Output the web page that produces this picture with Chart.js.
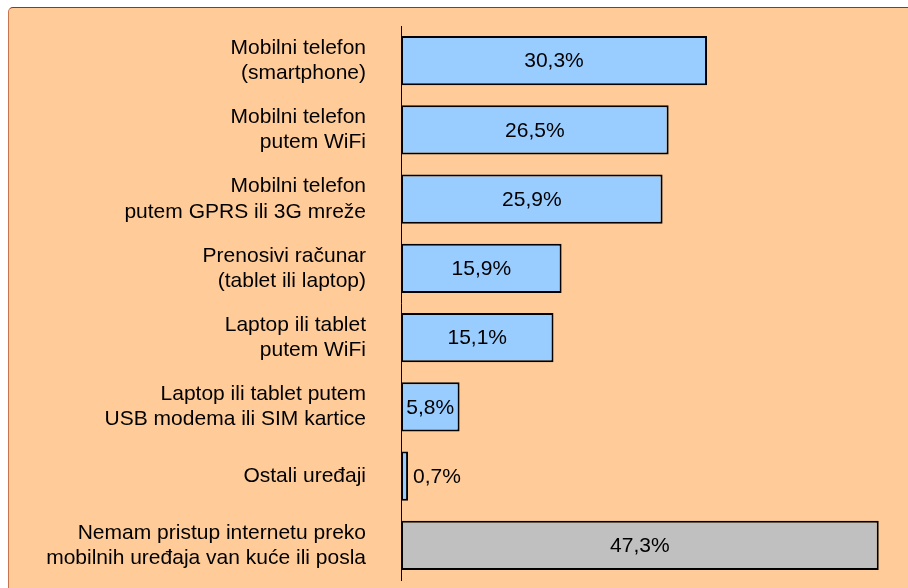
<!DOCTYPE html>
<html>
<head>
<meta charset="utf-8">
<script src="https://cdn.jsdelivr.net/npm/chart.js@4/dist/chart.umd.min.js"></script>
<style>
  html, body { margin: 0; padding: 0; background: #fff; overflow: hidden; }
  #panel {
    position: absolute; left: 8px; top: 7px; width: 1000px; height: 700px;
    background: #FFCC99;
    border-top: 1px solid #8a3d12; border-left: 1px solid #c8744c;
    border-top-left-radius: 5px;
  }
  #chart { position: absolute; left: 0; top: 0; }
</style>
</head>
<body>
<div id="panel"></div>
<canvas id="chart" width="908" height="588"></canvas>
<script>
// kategorije (oznake na y osi)
const categories = [
  ['Mobilni telefon', '(smartphone)'],
  ['Mobilni telefon', 'putem WiFi'],
  ['Mobilni telefon', 'putem GPRS ili 3G mreže'],
  ['Prenosivi računar', '(tablet ili laptop)'],
  ['Laptop ili tablet', 'putem WiFi'],
  ['Laptop ili tablet putem', 'USB modema ili SIM kartice'],
  'Ostali uređaji',
  ['Nemam pristup internetu preko', 'mobilnih uređaja van kuće ili posla']
];

// procenti
const values = [30.3, 26.5, 25.9, 15.9, 15.1, 5.8, 0.7, 47.3];

const barColors = ['#99CCFF', '#99CCFF', '#99CCFF', '#99CCFF', '#99CCFF', '#99CCFF', '#99CCFF', '#C0C0C0'];

const FONT = 'Liberation Sans, Arial, sans-serif';

function fmt(v) {
  return v.toFixed(1).replace('.', ',') + '%';
}

// natpisi vrijednosti: u sredini trake, ili desno ako traka nije dovoljno siroka
const valueLabels = {
  id: 'valueLabels',
  afterDatasetsDraw(chart) {
    const ctx = chart.ctx;
    const meta = chart.getDatasetMeta(0);
    ctx.save();
    ctx.font = '21px ' + FONT;
    ctx.fillStyle = '#000';
    ctx.textBaseline = 'middle';
    meta.data.forEach((bar, i) => {
      const text = fmt(values[i]);
      const w = ctx.measureText(text).width;
      const left = bar.base;
      const right = bar.x;
      if (right - left > w * 0.8) {
        ctx.textAlign = 'center';
        ctx.fillText(text, (left + right) / 2, bar.y + 1);
      } else {
        ctx.textAlign = 'left';
        ctx.fillText(text, right + 5, bar.y + 1);
      }
    });
    ctx.restore();
  }
};

new Chart(document.getElementById('chart'), {
  type: 'bar',
  data: {
    labels: categories,
    datasets: [{
      data: values,
      backgroundColor: barColors,
      borderColor: '#000',
      borderWidth: 2,
      borderSkipped: false,
      barPercentage: 0.71,
      categoryPercentage: 1.0
    }]
  },
  options: {
    indexAxis: 'y',
    responsive: false,
    animation: false,
    layout: { padding: { left: 0, right: 2, top: 26, bottom: 8 } },
    plugins: {
      legend: { display: false },
      tooltip: { enabled: false }
    },
    scales: {
      x: {
        display: false,
        min: 0,
        max: 50
      },
      y: {
        grid: { display: false, drawTicks: false },
        border: { display: true, color: '#000', width: 1 },
        ticks: {
          color: '#000',
          padding: 35,
          font: { family: FONT, size: 21, lineHeight: 1.2 }
        },
        afterFit(scale) {
          scale.width = 401;
          scale.paddingTop = 0;
          scale.paddingBottom = 0;
        }
      }
    }
  },
  plugins: [valueLabels]
});
</script>
</body>
</html>
